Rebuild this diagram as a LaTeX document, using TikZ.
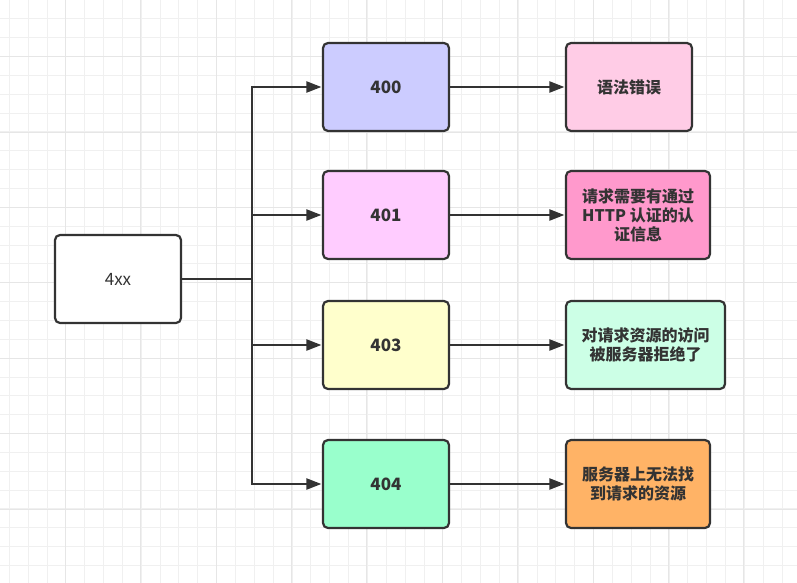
\documentclass[tikz,border=0pt]{standalone}
\usepackage{fontspec}
\setmainfont{Noto Sans CJK SC}
\usetikzlibrary{arrows.meta}
\definecolor{ink}{HTML}{333333}
\definecolor{gridA}{HTML}{F0F0F0}
\definecolor{gridB}{HTML}{E6E6E6}
\definecolor{cA}{HTML}{CCCCFF}
\definecolor{cB}{HTML}{FFCCFF}
\definecolor{cC}{HTML}{FFFFCC}
\definecolor{cD}{HTML}{99FFCC}
\definecolor{cE}{HTML}{FFCCE6}
\definecolor{cF}{HTML}{FF99CC}
\definecolor{cG}{HTML}{CCFFE6}
\definecolor{cH}{HTML}{FFB366}
\tikzset{
  box/.style={draw=ink, line width=2.2pt, rounded corners=5pt, text=ink,
    inner sep=0pt, align=center, font=\fontsize{16}{19}\selectfont\bfseries},
  numbox/.style={box, minimum width=126pt, minimum height=88pt, font=\fontsize{17}{19}\selectfont\bfseries},
  wire/.style={draw=ink, line width=2.2pt},
  arr/.style={wire, -{Triangle[length=15pt,width=11pt]}, shorten >=0.5pt},
}
\begin{document}
\begin{tikzpicture}[x=1pt,y=-1pt]
\useasboundingbox (0,0) rectangle (797,583);
\fill[white] (0,0) rectangle (797,583);
% grid
\foreach \k in {0,...,42}{
  \pgfmathsetmacro{\xx}{9.3+18.85*\k}
  \draw[gridA, line width=1pt] (\xx,0) -- (\xx,583);
}
\foreach \k in {0,...,31}{
  \pgfmathsetmacro{\yy}{18.85*\k}
  \draw[gridA, line width=1pt] (0,\yy) -- (797,\yy);
}
\foreach \k in {0,...,10}{
  \pgfmathsetmacro{\xx}{-10.1+75.4*\k}
  \draw[gridB, line width=1pt] (\xx,0) -- (\xx,583);
}
\foreach \k in {0,...,7}{
  \pgfmathsetmacro{\yy}{-18.7+75.4*\k}
  \draw[gridB, line width=1pt] (0,\yy) -- (797,\yy);
}
% nodes
\node[box, fill=white, minimum width=126pt, minimum height=88pt, font=\fontsize{17}{19}\selectfont] (x4) at (118,279) {4xx};
\node[numbox, fill=cA] (n400) at (386,87) {400};
\node[numbox, fill=cB] (n401) at (386,215) {401};
\node[numbox, fill=cC] (n403) at (386,345) {403};
\node[numbox, fill=cD] (n404) at (386,484) {404};
\node[box, fill=cE, minimum width=126pt, minimum height=88pt] (r400) at (629,87) {语法错误};
\node[box, fill=cF, minimum width=144pt, minimum height=88pt] (r401) at (638,215) {请求需要有通过\\HTTP 认证的认\\证信息};
\node[box, fill=cG, minimum width=159pt, minimum height=88pt] (r403) at (645.5,345) {对请求资源的访问\\被服务器拒绝了};
\node[box, fill=cH, minimum width=144pt, minimum height=88pt] (r404) at (638,484) {服务器上无法找\\到请求的资源};
% connectors
\coordinate (j) at (252,279);
\draw[wire] (x4.east) -- (j);
\draw[arr] (j) |- (n400.west);
\draw[arr] (j) |- (n401.west);
\draw[arr] (j) |- (n403.west);
\draw[arr] (j) |- (n404.west);
\draw[arr] (n400.east) -- (r400.west);
\draw[arr] (n401.east) -- (r401.west);
\draw[arr] (n403.east) -- (r403.west);
\draw[arr] (n404.east) -- (r404.west);
\end{tikzpicture}
\end{document}
